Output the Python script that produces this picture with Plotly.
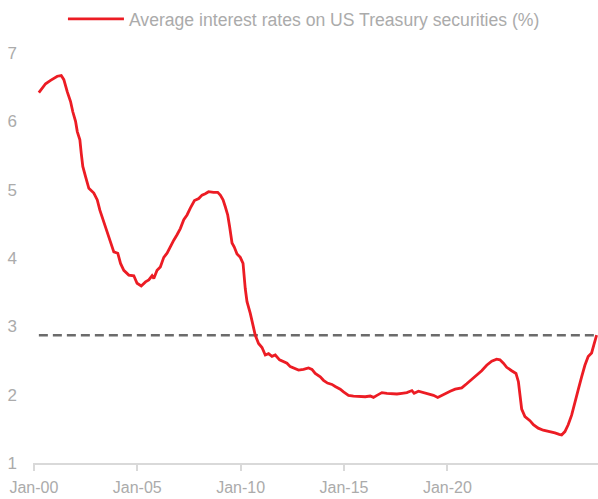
import plotly.graph_objects as go

months = [2.9, 6.8, 9.7, 13.6, 15.9, 17.4, 19.4, 21.3, 22.6, 24.2, 25.2, 26.7, 27.5, 28.4, 30.0,
          31.9, 34.8, 36.8, 38.3, 40.6, 42.9, 44.5, 46.4, 48.7, 50.3, 52.2, 55.1, 58.0, 59.9,
          62.3, 64.8, 66.7, 68.6, 69.6, 71.5, 73.4, 75.4, 77.3, 79.2, 81.2, 83.1, 85.0, 87.0,
          88.9, 90.8, 93.2, 95.7, 97.6, 99.5, 101.4, 104.3, 106.7, 108.2, 109.8, 111.1, 112.5,
          113.6, 115.0, 116.3, 117.9, 119.8, 121.4, 122.7, 123.7, 125.6, 127.2, 128.5, 130.4,
          132.4, 134.3, 136.2, 138.2, 140.1, 142.6, 144.9, 146.9, 148.8, 150.7, 153.6, 156.5,
          159.4, 161.4, 163.3, 166.2, 168.1, 170.4, 173.0, 174.9, 177.8, 179.7, 182.6, 185.5,
          189.4, 192.3, 195.2, 197.1, 199.1, 202.0, 204.9, 207.8, 210.7, 213.6, 216.5, 219.4,
          220.7, 223.2, 226.1, 229.0, 231.9, 234.4, 236.7, 239.6, 241.6, 244.5, 248.3, 251.2,
          254.1, 257.0, 259.9, 262.8, 265.7, 268.6, 270.5, 272.5, 274.4, 277.3, 279.8, 281.2,
          282.1, 283.1, 285.0, 287.9, 289.9, 292.7, 295.6, 299.5, 302.4, 304.9, 306.3, 308.2,
          310.1, 312.1, 314.0, 315.9, 317.9, 319.8, 321.7, 323.7, 325.0, 326.6]

rates = [6.42, 6.55, 6.60, 6.66, 6.67, 6.61, 6.43, 6.29, 6.14, 6.00, 5.85, 5.73, 5.53, 5.34, 5.19,
         5.02, 4.95, 4.85, 4.70, 4.53, 4.36, 4.22, 4.09, 4.07, 3.92, 3.82, 3.75, 3.74, 3.63,
         3.59, 3.65, 3.68, 3.74, 3.70, 3.82, 3.87, 4.01, 4.07, 4.17, 4.26, 4.34, 4.43, 4.56,
         4.63, 4.73, 4.84, 4.87, 4.92, 4.94, 4.97, 4.96, 4.96, 4.92, 4.85, 4.75, 4.63,
         4.46, 4.22, 4.16, 4.06, 4.01, 3.92, 3.55, 3.36, 3.19, 3.02, 2.87, 2.75,
         2.69, 2.58, 2.60, 2.56, 2.58, 2.51, 2.48, 2.46, 2.41, 2.39, 2.36, 2.37,
         2.39, 2.37, 2.31, 2.26, 2.21, 2.17, 2.15, 2.12, 2.08, 2.04, 1.99, 1.98,
         1.97, 1.97, 1.98, 1.96, 1.99, 2.03, 2.02, 2.01, 2.01, 2.02, 2.03, 2.06,
         2.02, 2.05, 2.03, 2.02, 1.99, 1.96, 1.99, 2.03, 2.05, 2.08, 2.10, 2.16,
         2.22, 2.29, 2.35, 2.43, 2.49, 2.52, 2.51, 2.46, 2.40, 2.35, 2.31, 2.19,
         1.97, 1.79, 1.68, 1.62, 1.56, 1.51, 1.48, 1.46, 1.44, 1.42, 1.41, 1.46,
         1.56, 1.70, 1.87, 2.07, 2.26, 2.43, 2.56, 2.61, 2.73, 2.87]

ref_level = 2.87
x_tick_vals = [0, 60, 120, 180, 240]
x_tick_labels = ["Jan-00", "Jan-05", "Jan-10", "Jan-15", "Jan-20"]
y_tick_vals = [1, 2, 3, 4, 5, 6, 7]
series_name = "Average interest rates on US Treasury securities (%)"

FONT = "Liberation Sans"
GREY_TXT = "#ababab"

fig = go.Figure()
fig.add_trace(go.Scatter(
    x=[months[0], months[-1]], y=[ref_level, ref_level], mode="lines",
    line=dict(color="#6b6b6b", width=2.6, dash="9px,5px"),
    showlegend=False, hoverinfo="skip"))
fig.add_trace(go.Scatter(
    x=months, y=rates, mode="lines", name=series_name,
    line=dict(color="#ec1c24", width=2.8)))

fig.update_layout(
    width=598, height=499,
    margin=dict(l=33, r=0, t=53, b=36),
    paper_bgcolor="white", plot_bgcolor="white",
    font=dict(family=FONT, size=16, color=GREY_TXT),
    showlegend=True,
    legend=dict(orientation="h", x=0.053, xanchor="left", y=1.083, yanchor="middle",
                font=dict(family=FONT, size=17.6, color=GREY_TXT),
                bgcolor="rgba(0,0,0,0)", itemwidth=56),
    xaxis=dict(range=[-0.5, 327.4], tickmode="array", tickvals=x_tick_vals,
               ticktext=x_tick_labels, showgrid=False, zeroline=False,
               showline=True, linecolor="#d9d9d9", linewidth=2,
               ticks="outside", ticklen=6, tickwidth=2, tickcolor="#d9d9d9",
               ticklabelstandoff=3,
               tickfont=dict(family=FONT, size=16, color=GREY_TXT)),
    yaxis=dict(range=[1, 7], tickmode="array", tickvals=y_tick_vals,
               showgrid=False, zeroline=False, showline=False,
               ticklabelstandoff=15,
               tickfont=dict(family=FONT, size=17, color=GREY_TXT)),
)

fig.write_html("out.html")
